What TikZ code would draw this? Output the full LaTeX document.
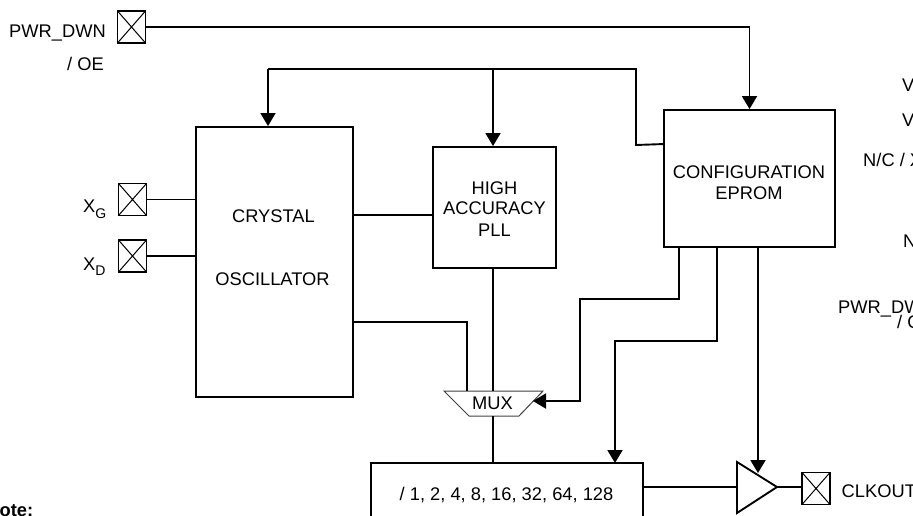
\documentclass[tikz,border=0pt]{standalone}
\usepackage{fontspec}
\setmainfont{Liberation Sans}
\usetikzlibrary{arrows.meta,calc}
\tikzset{
  wire/.style={line width=1.9pt},
  arr/.style={wire,-{Triangle[width=15pt,length=13pt]}},
  block/.style={draw,line width=1.9pt,inner sep=0pt},
  pad/.style={draw,line width=1.9pt,minimum width=28pt,minimum height=32pt,inner sep=0pt,
    path picture={\draw[line width=1pt]
      (path picture bounding box.north west)--(path picture bounding box.south east)
      (path picture bounding box.north east)--(path picture bounding box.south west);}},
  lbl/.style={inner sep=0pt,font=\fontsize{18.3}{21}\selectfont},
  muxshape/.style={line width=1pt,draw=black!75},
}
\begin{document}
\begin{tikzpicture}[x=1pt,y=-1pt]
\useasboundingbox (0,0) rectangle (913,515);

% pads
\node[pad] (pwr) at (131.5,27) {};
\node[pad] (xg) at (132.5,199.5) {};
\node[pad] (xd) at (132.5,256) {};
\node[pad] (clk) at (816,488.5) {};

% blocks
\node[block,minimum width=157pt,minimum height=270pt] (crystal) at (274.5,262) {};
\node[block,minimum width=123pt,minimum height=121pt] (pll) at (494.5,207.5) {};
\node[block,minimum width=171pt,minimum height=137pt] (eprom) at (749.5,178.5) {};
\node[block,minimum width=272pt,minimum height=64pt] (div) at (507,495) {};

% MUX
\draw[muxshape] (444,391) -- (543,391) -- (519,416) -- (469,416) -- cycle;
\node[lbl,anchor=base] (mux) at (492.5,409.5) {MUX};
\coordinate (muxtopA) at (467,391);
\coordinate (muxtopB) at (493,391);
\coordinate (muxbot) at (493,416);
\coordinate (muxright) at (533,401);

% output buffer
\draw[wire] (737,462) -- (777,487) -- (737,513) -- cycle;
\coordinate (bufin) at (737,487);
\coordinate (bufout) at (777,487);
\coordinate (bufctl) at (758,473);

% texts
\node[lbl,anchor=base east] (t1) at (106,37) {PWR\_DWN};
\node[lbl,anchor=base east] (t2) at (104,70.5) {/ OE};
\node[lbl,anchor=base west] (t3) at (83,212) {X\raisebox{-6pt}{\fontsize{14}{14}\selectfont G}};
\node[lbl,anchor=base west] (t4) at (83,270) {X\raisebox{-5pt}{\fontsize{14}{14}\selectfont D}};
\node[lbl,anchor=base] (t5) at (273.5,222.5) {CRYSTAL};
\node[lbl,anchor=base] (t6) at (272.5,285) {OSCILLATOR};
\node[lbl,anchor=base] (t7) at (494.5,194) {HIGH};
\node[lbl,anchor=base] (t8) at (494.5,214.5) {ACCURACY};
\node[lbl,anchor=base] (t9) at (494.5,236) {PLL};
\node[lbl,anchor=base] (t10) at (749,178.5) {CONFIGURATION};
\node[lbl,anchor=base] (t11) at (749,199) {EPROM};
\node[lbl,anchor=base] (t12) at (506.5,500.5) {/ 1, 2, 4, 8, 16, 32, 64, 128};
\node[lbl,anchor=base west] (t13) at (841.5,497) {CLKOUT};
\node[lbl,anchor=base west,font=\fontsize{18.3}{21}\selectfont\bfseries] (t14) at (-0.5,516) {ote:};

\begin{scope}
\clip (0,0) rectangle (913,515);
\node[lbl,anchor=base west] (r1) at (902,91) {V};
\node[lbl,anchor=base west] (r2) at (902,126) {V};
\node[lbl,anchor=base west] (r3) at (863,166) {N/C / X};
\node[lbl,anchor=base west] (r4) at (903,247) {N};
\node[lbl,anchor=base west] (r5) at (838,313) {PWR\_DW};
\node[lbl,anchor=base west] (r6) at (897,328) {/ O};
\end{scope}

% connectors
\draw[arr] (pwr.east) -| (eprom.north);
\coordinate (epin) at ($(eprom.north west)+(0,35)$);
\coordinate (fbA) at (636,145);
\coordinate (fbB) at (636,69);
\coordinate (fbC) at (268,69);
\coordinate (fbD) at (493,69);
\draw[wire] (epin) -- (fbA) -- (fbB) -- (fbC);
\draw[arr] (fbC) -- (fbC |- crystal.north);
\draw[arr] (fbD) -- (fbD |- pll.north);

\draw[wire] (xg.east) -- (xg.east -| crystal.west);
\draw[wire] (xd.east) -- (xd.east -| crystal.west);

\coordinate (cp) at (353,215);
\draw[wire] (cp) -- (cp -| pll.west);
\coordinate (cm) at (353,322);
\draw[wire] (cm) -| (muxtopA);
\draw[wire] (muxtopB |- pll.south) -- (muxtopB);
\draw[wire] (muxbot) -- (muxbot |- div.north);

\coordinate (eA) at (679,247);
\coordinate (eB) at (717,247);
\coordinate (eC) at (758,247);
\draw[arr] (eA) -- (679,299) -- (580,299) -- (580,401) -- (muxright);
\draw[arr] (eB) -- (717,341) -- (615,341) -- (615,463);
\draw[arr] (eC) -- (bufctl);

\draw[wire] (div.east |- bufin) -- (bufin);
\draw[wire] (bufout) -- (clk.west |- bufout);
\end{tikzpicture}
\end{document}
